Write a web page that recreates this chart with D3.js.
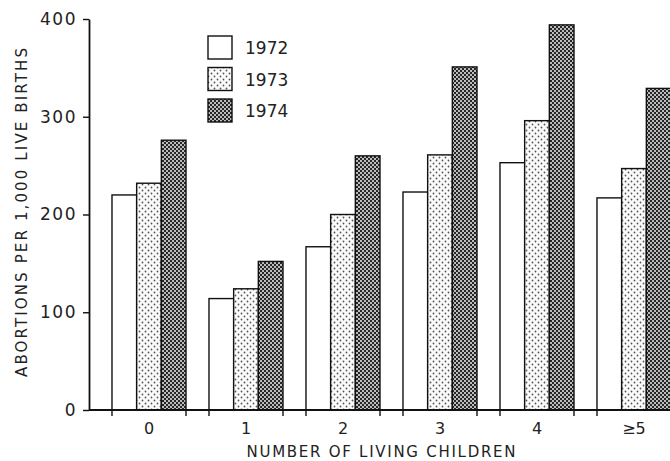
<!DOCTYPE html>
<html>
<head>
<meta charset="utf-8">
<script src="https://cdn.jsdelivr.net/npm/d3@7"></script>
<style>
  html, body { margin: 0; padding: 0; background: #fff; }
  svg { display: block; }
  text { font-family: "DejaVu Sans", sans-serif; fill: #222; }
</style>
</head>
<body>
<svg id="chart" width="670" height="461"></svg>
<script>
const categories = ["0", "1", "2", "3", "4", "\u22655"];
const seriesNames = ["1972", "1973", "1974"];
const values1972 = [220, 114, 167, 223, 253, 217];
const values1973 = [232, 124, 200, 261, 296, 247];
const values1974 = [276, 152, 260, 351, 394, 329];
const yTicks = [0, 100, 200, 300, 400];
const yTitle = "ABORTIONS PER 1,000 LIVE BIRTHS";
const xTitle = "NUMBER OF LIVING CHILDREN";

const series = [values1972, values1973, values1974];

const svg = d3.select("#chart");
const W = 670, H = 461;
const mLeft = 89, mBottom = 410, mTop = 19;

// patterns
const defs = svg.append("defs");
const p73 = defs.append("pattern").attr("id", "p1973")
  .attr("patternUnits", "userSpaceOnUse").attr("width", 6).attr("height", 6);
p73.append("rect").attr("width", 6).attr("height", 6).attr("fill", "#fbfbfb");
p73.append("circle").attr("cx", 1.5).attr("cy", 1.5).attr("r", 0.9).attr("fill", "#555");
p73.append("circle").attr("cx", 4.5).attr("cy", 4.5).attr("r", 0.9).attr("fill", "#555");

const p74 = defs.append("pattern").attr("id", "p1974")
  .attr("patternUnits", "userSpaceOnUse").attr("width", 4).attr("height", 4);
p74.append("rect").attr("width", 4).attr("height", 4).attr("fill", "#262626");
p74.append("circle").attr("cx", 1).attr("cy", 1).attr("r", 1.0).attr("fill", "#eeeeee");
p74.append("circle").attr("cx", 3).attr("cy", 3).attr("r", 1.0).attr("fill", "#eeeeee");

const fills = ["#ffffff", "url(#p1973)", "url(#p1974)"];

const y = d3.scaleLinear().domain([0, 400]).range([mBottom, mTop]);
const x0 = d3.scaleBand().domain(categories)
  .range([mLeft, mLeft + 97 * (categories.length + 0.237)])
  .paddingInner(0.237).paddingOuter(0.237);
const x1 = d3.scaleBand().domain(seriesNames).range([0, x0.bandwidth()]).padding(0);

// bars
const g = svg.append("g");
categories.forEach((c, ci) => {
  seriesNames.forEach((s, si) => {
    g.append("rect")
      .attr("x", x0(c) + x1(s))
      .attr("y", y(series[si][ci]))
      .attr("width", x1.bandwidth())
      .attr("height", y(0) - y(series[si][ci]))
      .attr("fill", fills[si])
      .attr("stroke", "#111")
      .attr("stroke-width", 1.4);
  });
});

// x-axis line and group edge ticks
svg.append("line").attr("x1", mLeft).attr("x2", W).attr("y1", mBottom).attr("y2", mBottom)
  .attr("stroke", "#111").attr("stroke-width", 1.8);
categories.forEach(c => {
  [x0(c), x0(c) + x0.bandwidth()].forEach(px => {
    svg.append("line").attr("x1", px).attr("x2", px).attr("y1", mBottom).attr("y2", mBottom + 6)
      .attr("stroke", "#111").attr("stroke-width", 1.4);
  });
  svg.append("text").attr("x", x0(c) + x0.bandwidth() / 2).attr("y", 434)
    .attr("text-anchor", "middle").attr("font-size", 16).text(c);
});

// y-axis
const yAxis = d3.axisLeft(y).tickValues(yTicks).tickSize(6).tickSizeOuter(0).tickPadding(6);
const ya = svg.append("g").attr("transform", `translate(${mLeft},0)`).call(yAxis);
ya.select(".domain").attr("stroke", "#111").attr("stroke-width", 1.8);
ya.selectAll(".tick line").attr("stroke", "#111").attr("stroke-width", 1.4);
ya.selectAll(".tick text").attr("font-size", 17).attr("letter-spacing", 1.5)
  .attr("font-family", "DejaVu Sans, sans-serif").attr("fill", "#222");

// titles
svg.append("text").attr("transform", "translate(27,212.5) rotate(-90)")
  .attr("text-anchor", "middle").attr("font-size", 15)
  .attr("textLength", 329).attr("lengthAdjust", "spacing").text(yTitle);
svg.append("text").attr("x", 381).attr("y", 457)
  .attr("text-anchor", "middle").attr("font-size", 15)
  .attr("textLength", 269).attr("lengthAdjust", "spacing").text(xTitle);

// legend
const leg = svg.append("g");
seriesNames.forEach((s, i) => {
  const ly = 36 + i * 31.5;
  leg.append("rect").attr("x", 208).attr("y", ly).attr("width", 24).attr("height", 23)
    .attr("fill", fills[i]).attr("stroke", "#111").attr("stroke-width", 1.4);
  leg.append("text").attr("x", 245).attr("y", ly + 18).attr("font-size", 17).text(s);
});
</script>
</body>
</html>
